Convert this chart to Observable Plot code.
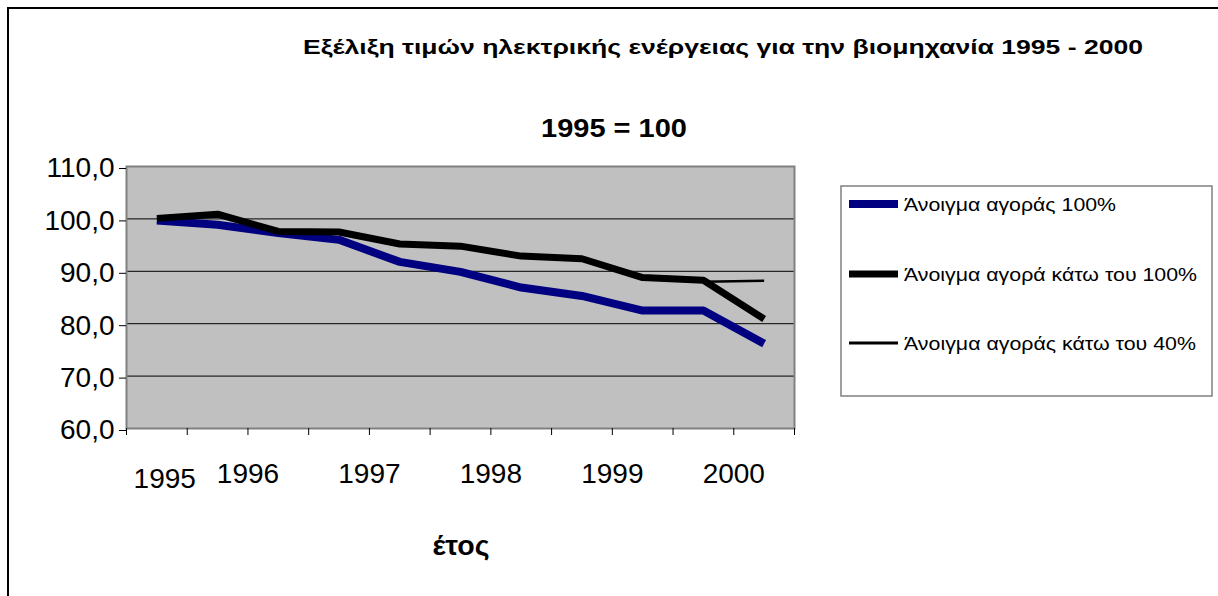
<!DOCTYPE html>
<html><head><meta charset="utf-8">
<script src="https://cdn.jsdelivr.net/npm/d3@7"></script>
<script src="https://cdn.jsdelivr.net/npm/@observablehq/plot@0.6"></script>
<style>
body{margin:0;background:#fff;}
#chart{position:relative;width:1218px;height:596px;}
</style></head><body><div id="chart"></div>
<script>
// ---- data ----
const periods = [0, 1, 2, 3, 4, 5, 6, 7, 8, 9, 10];
const seriesNames = ["Άνοιγμα αγοράς 100%", "Άνοιγμα αγορά κάτω του 100%", "Άνοιγμα αγοράς κάτω του 40%"];
const open100 = [99.7, 98.9, 97.3, 96.0, 91.8, 89.9, 86.9, 85.3, 82.5, 82.5, 76.2];
const openBelow100 = [100.1, 100.9, 97.6, 97.5, 95.2, 94.8, 92.9, 92.4, 88.8, 88.3, 80.9];
const openBelow40 = [100.1, 100.9, 97.6, 97.5, 95.2, 94.8, 92.9, 92.4, 88.8, 88.0, 88.2];
const yTicks = [60, 70, 80, 90, 100, 110];
const gridLines = [70, 80, 90, 100];
const categoryBounds = [0, 1, 2, 3, 4, 5, 6, 7, 8, 9, 10, 11];
const yearLabels = ["1995", "1996", "1997", "1998", "1999", "2000"];
const yearLabelAt = [0.63, 2, 4, 6, 8, 10];
const titleText = "Εξέλιξη τιμών ηλεκτρικής ενέργειας για την βιομηχανία 1995 - 2000";
const subtitleText = "1995 = 100";
const xTitle = "έτος";

const rows = (vals) => periods.map((p, i) => ({x: p + 0.5, y: vals[i]}));
const FONT = "'Liberation Sans', Arial, sans-serif";

const svg = Plot.plot({
  width: 1218, height: 596,
  marginLeft: 126, marginRight: 424, marginTop: 166, marginBottom: 168,
  style: {fontFamily: FONT, fontSize: "26px", color: "#000", background: "#fff", overflow: "visible"},
  x: {domain: [0, 11], axis: null},
  y: {domain: [60, 110], axis: null},
  marks: [
    Plot.frame({fill: "#c0c0c0", stroke: "none"}),
    Plot.ruleY(gridLines, {stroke: "#000", strokeWidth: 1}),
    Plot.line(rows(open100), {x: "x", y: "y", stroke: "#000080", strokeWidth: 8, strokeLinejoin: "miter", strokeLinecap: "butt"}),
    Plot.line(rows(openBelow40), {x: "x", y: "y", stroke: "#000", strokeWidth: 2.5, strokeLinejoin: "miter", strokeLinecap: "butt"}),
    Plot.line(rows(openBelow100), {x: "x", y: "y", stroke: "#000", strokeWidth: 7, strokeLinejoin: "miter", strokeLinecap: "butt"}),
    Plot.frame({stroke: "#808080", strokeWidth: 2}),
    Plot.axisY({ticks: yTicks, label: null, tickSize: 7, tickPadding: 5, dy: 2, tickFormat: d => d.toFixed(1).replace(".", ","), fontSize: 28, stroke: "#000", fill: "#000"}),
    Plot.axisX({ticks: categoryBounds, label: null, tickSize: 7, tickFormat: () => "", stroke: "#000"}),
    Plot.text(yearLabels.slice(1), {x: yearLabelAt.slice(1), text: d => d, frameAnchor: "bottom", lineAnchor: "bottom", dy: 54, fontSize: 28, fill: "#000"}),
    Plot.text(yearLabels.slice(0, 1), {x: yearLabelAt.slice(0, 1), text: d => d, frameAnchor: "bottom", lineAnchor: "bottom", dy: 59, fontSize: 28, fill: "#000"})
  ]
});
document.getElementById("chart").appendChild(svg);

const s = d3.select(svg);
// outer chart border
s.append("path").attr("d", "M8,596V8H1218").attr("fill", "none").attr("stroke", "#000").attr("stroke-width", 2);
// titles
s.append("text").attr("x", 723).attr("y", 54).attr("text-anchor", "middle")
  .attr("font-family", FONT).attr("font-weight", "bold").attr("font-size", 21)
  .attr("textLength", 840).attr("lengthAdjust", "spacingAndGlyphs").text(titleText);
s.append("text").attr("x", 614).attr("y", 137).attr("text-anchor", "middle")
  .attr("font-family", FONT).attr("font-weight", "bold").attr("font-size", 25)
  .attr("textLength", 146).attr("lengthAdjust", "spacingAndGlyphs").text(subtitleText);
s.append("text").attr("x", 461).attr("y", 555).attr("text-anchor", "middle")
  .attr("font-family", FONT).attr("font-weight", "bold").attr("font-size", 27)
  .attr("textLength", 57).attr("lengthAdjust", "spacingAndGlyphs").text(xTitle);

// legend
const lg = s.append("g").attr("text-anchor", "start");
lg.append("rect").attr("x", 841).attr("y", 186).attr("width", 371).attr("height", 210)
  .attr("fill", "#fff").attr("stroke", "#808080").attr("stroke-width", 1.5);
const legendY = [204, 274, 343];
const legendStroke = ["#000080", "#000", "#000"];
const legendWidth = [8, 7, 3];
const legendLen = [212, 293, 292];
seriesNames.forEach((name, i) => {
  lg.append("line").attr("x1", 849).attr("x2", 898).attr("y1", legendY[i]).attr("y2", legendY[i])
    .attr("stroke", legendStroke[i]).attr("stroke-width", legendWidth[i]);
  lg.append("text").attr("x", 904).attr("y", legendY[i] + 7).attr("text-anchor", "start")
    .attr("font-family", FONT).attr("font-size", 18).attr("fill", "#000")
    .attr("textLength", legendLen[i]).attr("lengthAdjust", "spacingAndGlyphs").text(name);
});
</script></body></html>
